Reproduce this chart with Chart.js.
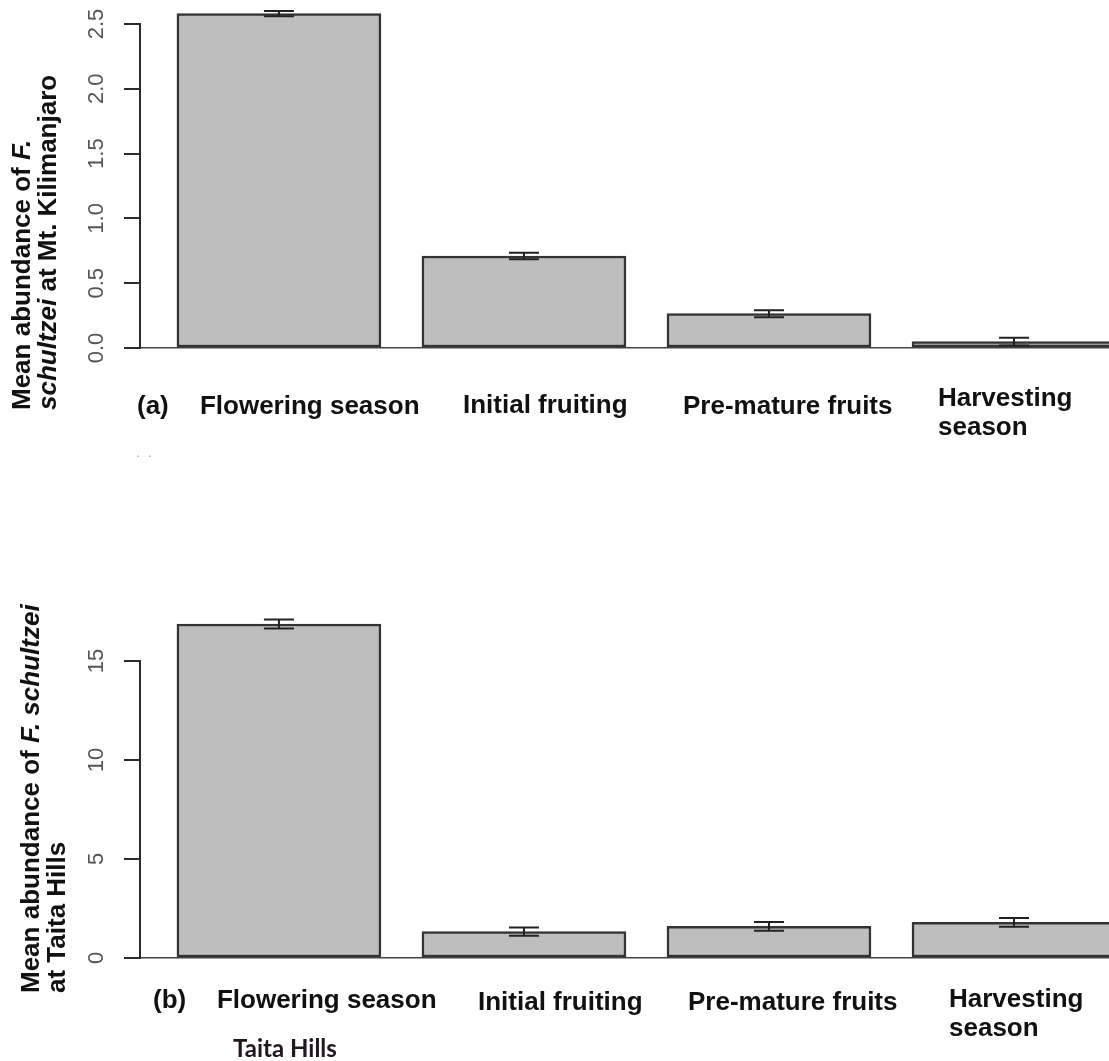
<!DOCTYPE html>
<html>
<head>
<meta charset="utf-8">
<script src="https://cdn.jsdelivr.net/npm/chart.js@4.4.1/dist/chart.umd.min.js"></script>
<style>
html, body { margin: 0; padding: 0; background: #fff; overflow: hidden; width: 1109px; height: 1061px; }
canvas { position: absolute; left: 0; }
#chartA { top: 0; }
#chartB { top: 480px; }
</style>
</head>
<body>
<canvas id="chartA" width="1150" height="480"></canvas>
<canvas id="chartB" width="1150" height="581"></canvas>
<script>
// Seasons (categories)
const categories = ['Flowering season', 'Initial fruiting', 'Pre-mature fruits', ['Harvesting', 'season']];

// (a) Mt. Kilimanjaro
const kiliMeans = [2.58, 0.71, 0.265, 0.05];
const kiliErrors = [0.02, 0.025, 0.027, 0.03];
const kiliTicks = [0, 0.5, 1.0, 1.5, 2.0, 2.5];

// (b) Taita Hills
const taitaMeans = [16.87, 1.33, 1.6, 1.8];
const taitaErrors = [0.23, 0.21, 0.22, 0.22];
const taitaTicks = [0, 5, 10, 15];

const FONT = '"Liberation Sans", Arial, sans-serif';
const INK = '#2b2b2b';

// Panel settings (layout only)
const panels = [
    {
        canvas: 'chartA', means: kiliMeans, errors: kiliErrors, ticks: kiliTicks, decimals: 1,
        padTop: 24, padBottom: 132,
        letter: { text: '(a)', x: 137, y: 414 },
        labelDx: [-79, -61, -86, -76], labelY: [414, 413, 414, 406],
        title: {
            x: [23, 49], start: 410,
            lines: [
                [['Mean abundance of ', false], ['F.', true]],
                [['schultzei', true], [' at Mt. Kilimanjaro', false]]
            ]
        },
        extra: [{ text: '.  .', x: 136, y: 457, font: '14px ' + FONT, color: '#aaa' }]
    },
    {
        canvas: 'chartB', means: taitaMeans, errors: taitaErrors, ticks: taitaTicks, decimals: 0,
        padTop: 181, padBottom: 103,
        letter: { text: '(b)', x: 153, y: 528 },
        labelDx: [-62, -46, -81, -65], labelY: [528, 530, 530, 527],
        title: {
            x: [32, 58], start: 513,
            lines: [
                [['Mean abundance of ', false], ['F. schultzei', true]],
                [['at Taita Hills', false]]
            ]
        },
        extra: [{ text: 'Taita Hills', x: 233, y: 577, font: 'bold 24px Lato, "Open Sans", sans-serif', color: '#24161f' }]
    }
];

// Error bars
const errorBarPlugin = {
    id: 'errorBars',
    afterDatasetsDraw(chart) {
        const p = chart.options.plugins.panel;
        const y = chart.scales.y;
        const ctx = chart.ctx;
        ctx.save();
        ctx.strokeStyle = '#222';
        ctx.lineWidth = 2;
        chart.getDatasetMeta(0).data.forEach((bar, i) => {
            const yTop = y.getPixelForValue(p.means[i] + p.errors[i]);
            const yBot = y.getPixelForValue(p.means[i] - p.errors[i]);
            ctx.beginPath();
            ctx.moveTo(bar.x, yTop); ctx.lineTo(bar.x, yBot);
            ctx.moveTo(bar.x - 15, yTop); ctx.lineTo(bar.x + 15, yTop);
            ctx.moveTo(bar.x - 15, yBot); ctx.lineTo(bar.x + 15, yBot);
            ctx.stroke();
        });
        ctx.restore();
    }
};

// Texts: tick labels, category labels, titles
const textPlugin = {
    id: 'texts',
    afterDraw(chart) {
        const p = chart.options.plugins.panel;
        const ctx = chart.ctx;
        const x = chart.scales.x;
        const y = chart.scales.y;
        ctx.save();

        // rotated y tick labels
        ctx.fillStyle = '#555';
        ctx.font = '22px ' + FONT;
        ctx.textAlign = 'center';
        ctx.textBaseline = 'middle';
        y.ticks.forEach(t => {
            ctx.save();
            ctx.translate(97, y.getPixelForValue(t.value));
            ctx.rotate(-Math.PI / 2);
            ctx.fillText(t.value.toFixed(p.decimals), 0, 0);
            ctx.restore();
        });

        // category labels
        ctx.fillStyle = '#111';
        ctx.font = 'bold 26px ' + FONT;
        ctx.textAlign = 'left';
        ctx.textBaseline = 'alphabetic';
        categories.forEach((c, i) => {
            const lines = Array.isArray(c) ? c : [c];
            const lx = x.getPixelForValue(i) + p.labelDx[i];
            lines.forEach((l, j) => ctx.fillText(l, lx, p.labelY[i] + j * 29));
        });
        ctx.fillText(p.letter.text, p.letter.x, p.letter.y);

        // y axis title, two rotated lines
        p.title.lines.forEach((segs, k) => {
            ctx.save();
            ctx.translate(p.title.x[k], p.title.start);
            ctx.rotate(-Math.PI / 2);
            ctx.textBaseline = 'middle';
            ctx.fillStyle = '#111';
            let off = 0;
            segs.forEach(([txt, ital]) => {
                ctx.font = (ital ? 'italic ' : '') + 'bold 26px ' + FONT;
                ctx.fillText(txt, off, 0);
                off += ctx.measureText(txt).width;
            });
            ctx.restore();
        });

        p.extra.forEach(e => {
            ctx.font = e.font;
            ctx.fillStyle = e.color;
            ctx.fillText(e.text, e.x, e.y);
        });
        ctx.restore();
    }
};

function drawPanel(p) {
    const ctx = document.getElementById(p.canvas).getContext('2d');
    return new Chart(ctx, {
        type: 'bar',
        data: {
            datasets: [{
                data: p.means.map((v, i) => ({ x: i, y: v })),
                backgroundColor: '#bebebe',
                borderColor: '#333',
                borderWidth: 2.5,
                borderSkipped: false,
                barThickness: 204,
                clip: false
            }]
        },
        options: {
            responsive: false,
            animation: false,
            layout: { padding: { left: 124, right: 0, top: p.padTop, bottom: p.padBottom } },
            plugins: {
                legend: { display: false },
                tooltip: { enabled: false },
                panel: p
            },
            scales: {
                x: {
                    type: 'linear',
                    offset: false,
                    min: -0.567,
                    max: 3.555,
                    afterBuildTicks: s => { s.ticks = categories.map((c, i) => ({ value: i })); },
                    ticks: { display: false },
                    grid: { display: false, drawTicks: false },
                    border: { display: true, color: '#444', width: 1.5 }
                },
                y: {
                    min: 0,
                    max: p.ticks[p.ticks.length - 1],
                    afterBuildTicks: s => { s.ticks = p.ticks.map(v => ({ value: v })); },
                    ticks: { display: false },
                    grid: { drawOnChartArea: false, drawTicks: true, tickLength: 16, color: INK, lineWidth: 2 },
                    border: { display: true, color: INK, width: 2 }
                }
            }
        },
        plugins: [errorBarPlugin, textPlugin]
    });
}

panels.forEach(drawPanel);
</script>
</body>
</html>
